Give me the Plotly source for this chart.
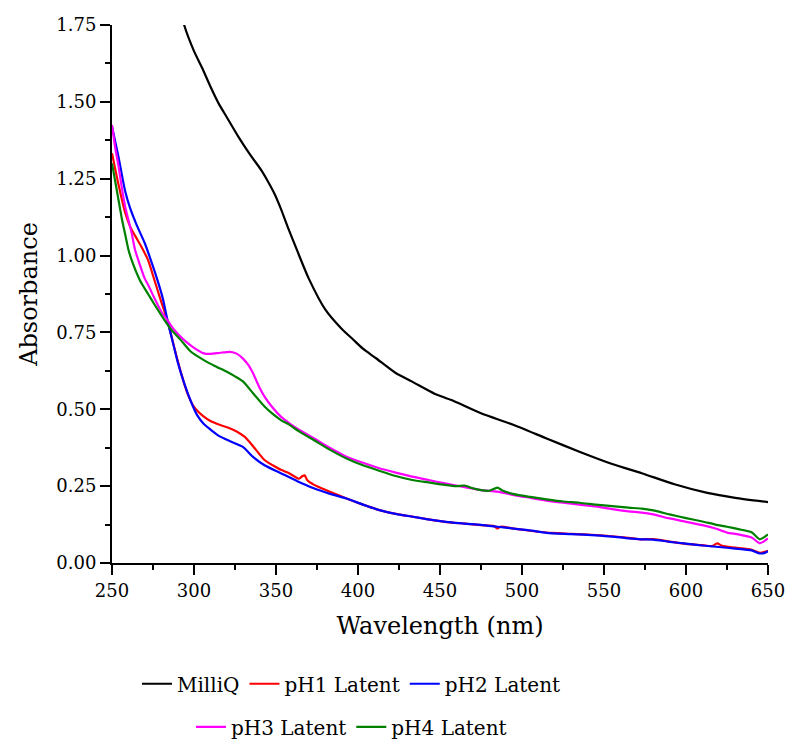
import plotly.graph_objects as go

# --- MilliQ reference ---
wl_milliq = [288, 294, 300, 305, 310, 315, 320, 327, 334, 341, 345, 349, 353, 357,
             363, 370, 380, 390, 397, 403, 411, 423, 433, 447, 457, 475, 495, 515,
             535, 555, 573, 593, 613, 630, 650]
abs_milliq = [1.89, 1.75, 1.665, 1.61, 1.55, 1.495, 1.45, 1.387, 1.33, 1.278, 1.242,
              1.202, 1.152, 1.095, 1.015, 0.925, 0.825, 0.762, 0.727, 0.697, 0.666, 0.618,
              0.59, 0.55, 0.53, 0.487, 0.449, 0.405, 0.362, 0.322, 0.292, 0.256,
              0.228, 0.212, 0.198]

# --- pH1 Latent ---
wl_ph1 = [250, 254, 258, 261, 264, 268, 272, 276, 280, 284, 288, 292, 296, 300, 306,
          310, 316, 321, 326, 331, 336, 343, 348, 353, 358, 364, 366, 367.5, 369, 373,
          380, 393, 403, 413, 423, 433, 443, 453, 465, 475, 483, 485, 487, 495, 505,
          515, 530, 545, 555, 565, 573, 580, 590, 600, 610, 616, 619, 622, 630, 640,
          645, 648, 650]
abs_ph1 = [1.333, 1.23, 1.14, 1.095, 1.065, 1.028, 0.985, 0.918, 0.85, 0.785, 0.70,
           0.62, 0.552, 0.508, 0.476, 0.462, 0.449, 0.44, 0.428, 0.41, 0.38, 0.335,
           0.318, 0.303, 0.292, 0.274, 0.282, 0.285, 0.27, 0.255, 0.238, 0.21, 0.19,
           0.172, 0.16, 0.151, 0.142, 0.134, 0.128, 0.123, 0.12, 0.112, 0.118, 0.112,
           0.105, 0.099, 0.095, 0.091, 0.087, 0.082, 0.077, 0.078, 0.07, 0.062, 0.058,
           0.055, 0.064, 0.056, 0.05, 0.043, 0.033, 0.036, 0.04]

# --- pH2 Latent ---
wl_ph2 = [250, 254, 258, 261, 265, 270, 274, 278, 281, 284, 287, 290, 294, 298, 302,
          306, 311, 316, 322, 330, 336, 343, 353, 363, 373, 383, 393, 403, 413, 423,
          435, 445, 455, 465, 475, 485, 495, 505, 515, 530, 545, 555, 565, 573, 580,
          590, 600, 610, 620, 630, 640, 645, 648, 650]
abs_ph2 = [1.42, 1.32, 1.21, 1.155, 1.10, 1.04, 0.98, 0.915, 0.86, 0.785, 0.72, 0.655,
           0.585, 0.527, 0.48, 0.452, 0.43, 0.411, 0.396, 0.377, 0.345, 0.318, 0.292,
           0.266, 0.243, 0.225, 0.21, 0.19, 0.172, 0.16, 0.149, 0.14, 0.133, 0.128,
           0.124, 0.118, 0.112, 0.106, 0.098, 0.094, 0.09, 0.086, 0.08, 0.077, 0.076,
           0.069, 0.063, 0.057, 0.052, 0.047, 0.041, 0.031, 0.033, 0.038]

# --- pH3 Latent ---
wl_ph3 = [250, 252, 254, 256, 258, 262, 264, 270, 272, 276, 280, 284, 288, 294, 300,
          306, 310, 316, 322, 326, 330, 333, 336, 340, 343, 348, 353, 358, 365, 373,
          383, 393, 403, 413, 423, 433, 443, 453, 465, 475, 485, 495, 505, 515, 525,
          535, 545, 555, 565, 573, 580, 590, 600, 610, 618, 625, 632, 640, 645, 648, 650]
abs_ph3 = [1.425, 1.35, 1.29, 1.22, 1.16, 1.073, 1.02, 0.925, 0.905, 0.86, 0.818,
           0.788, 0.758, 0.725, 0.70, 0.682, 0.68, 0.684, 0.687, 0.681, 0.664, 0.645,
           0.617, 0.57, 0.541, 0.505, 0.476, 0.455, 0.43, 0.406, 0.374, 0.346, 0.326,
           0.308, 0.294, 0.281, 0.27, 0.259, 0.247, 0.237, 0.232, 0.221, 0.212, 0.203,
           0.196, 0.19, 0.184, 0.175, 0.168, 0.164, 0.158, 0.145, 0.134, 0.123, 0.112,
           0.099, 0.093, 0.083, 0.064, 0.072, 0.08]

# --- pH4 Latent ---
wl_ph4 = [250, 252, 254, 256, 258, 260, 262, 267, 272, 276, 282, 286, 292, 298, 306,
          313, 320, 325, 330, 336, 343, 348, 353, 358, 365, 373, 383, 393, 403, 413,
          423, 433, 443, 453, 460, 465, 470, 475, 480, 485, 488, 495, 505, 515, 525,
          535, 545, 555, 565, 573, 580, 590, 600, 610, 618, 625, 632, 640, 645, 648, 650]
abs_ph4 = [1.30, 1.24, 1.18, 1.12, 1.07, 1.02, 0.985, 0.92, 0.875, 0.84, 0.79, 0.76,
           0.725, 0.688, 0.66, 0.64, 0.622, 0.607, 0.59, 0.552, 0.509, 0.485, 0.465,
           0.45, 0.425, 0.40, 0.368, 0.34, 0.318, 0.30, 0.283, 0.27, 0.262, 0.254,
           0.25, 0.252, 0.243, 0.237, 0.235, 0.245, 0.236, 0.224, 0.215, 0.207, 0.20,
           0.196, 0.19, 0.185, 0.18, 0.177, 0.171, 0.158, 0.146, 0.135, 0.125, 0.118,
           0.11, 0.10, 0.077, 0.085, 0.093]

series = [
    ("MilliQ", wl_milliq, abs_milliq, "#000000", "legend"),
    ("pH1 Latent", wl_ph1, abs_ph1, "#ff0000", "legend"),
    ("pH2 Latent", wl_ph2, abs_ph2, "#0000ff", "legend"),
    ("pH3 Latent", wl_ph3, abs_ph3, "#ff00ff", "legend2"),
    ("pH4 Latent", wl_ph4, abs_ph4, "#008000", "legend2"),
]

FONT = "DejaVu Serif"

fig = go.Figure()
for name, x, y, color, leg in series:
    fig.add_trace(go.Scatter(
        x=x, y=y, name=name, mode="lines",
        line=dict(color=color, width=2.2, shape="spline", smoothing=0.6),
        legend=leg,
    ))

axis_common = dict(
    showline=True, linecolor="black", linewidth=2, mirror=False,
    showgrid=False, zeroline=False,
    ticks="outside", ticklen=10, tickwidth=2, tickcolor="black",
    tickfont=dict(family=FONT, size=18, color="black"),
)

fig.update_xaxes(
    range=[250, 650], dtick=50, tick0=250,
    minor=dict(ticks="outside", ticklen=5, tickwidth=2, tickcolor="black", dtick=25),
    title=dict(text="Wavelength (nm)", font=dict(family=FONT, size=24, color="black"),
               standoff=18),
    **axis_common,
)
fig.update_yaxes(
    range=[0, 1.75], dtick=0.25, tick0=0, tickformat=".2f",
    minor=dict(ticks="outside", ticklen=5, tickwidth=2, tickcolor="black", dtick=0.125),
    title=dict(text="Absorbance", font=dict(family=FONT, size=24, color="black"),
               standoff=12),
    **axis_common,
)

# two centred legend rows, placed relative to the whole figure
legend_common = dict(
    orientation="h", xref="container", yref="container",
    xanchor="center", yanchor="middle",
    font=dict(family=FONT, size=20, color="black"),
    bgcolor="rgba(0,0,0,0)", itemwidth=30,
)

fig.update_layout(
    width=797, height=744,
    margin=dict(l=112, r=18, t=25, b=181),
    paper_bgcolor="white", plot_bgcolor="white",
    font=dict(family=FONT, color="black"),
    legend=dict(x=0.441, y=0.081, **legend_common),
    legend2=dict(x=0.441, y=0.023, **legend_common),
)

fig.write_html("out.html")
